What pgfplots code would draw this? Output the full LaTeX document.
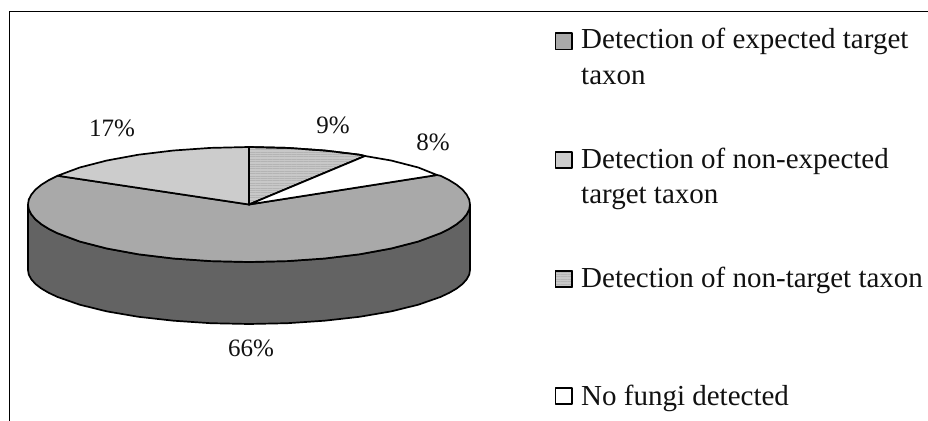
\documentclass[border=0pt]{standalone}
\usepackage{pgfplots}
\pgfplotsset{compat=1.18}
\usetikzlibrary{patterns.meta}
\usepackage{fontspec}
\setmainfont{Liberation Serif}
\definecolor{txt}{HTML}{111111}
\definecolor{side}{HTML}{636363}
\definecolor{big}{HTML}{A9A9A9}
\definecolor{lg}{HTML}{CCCCCC}
\definecolor{hatch}{HTML}{C8C8C8}
\definecolor{hatchline}{HTML}{B4B4B4}
\tikzset{stripes/.style={fill=hatch,postaction={pattern={Lines[angle=0,distance=2.4bp,line width=1bp]},pattern color=hatchline}}}
\newcommand{\lab}[3]{\node[anchor=base west,inner sep=0pt,text=txt,font=\fontsize{29bp}{30bp}\selectfont] at (axis cs:#1,#2) {#3};}
\newcommand{\pct}[3]{\node[anchor=center,inner sep=0pt,text=txt,font=\fontsize{25bp}{26bp}\selectfont] at (axis cs:#1,#2) {#3};}
\begin{document}
\begin{tikzpicture}
\useasboundingbox (0,0) rectangle (928bp,421bp);
\begin{axis}[
  at={(0,0)},anchor=south west,
  scale only axis,width=928bp,height=421bp,
  xmin=0,xmax=928,ymin=0,ymax=421,y dir=reverse,
  axis lines=none,clip=false,
  every axis plot/.append style={line join=round,line width=1.7bp,draw=black,mark=none}
]
% frame
\addplot[line width=1.2bp,draw=black] coordinates {(9.5,421)(9.5,11.5)(928,11.5)};
% side wall
\addplot[fill=side] coordinates {(28,204.5)(28.8,209.5)(31.4,214.5)(35.5,219.4)(41.3,224.2)(48.7,228.8)(57.6,233.25)(79.7,241.5)(106.9,248.5)(138.5,254.3)(173.4,258.5)(210.6,261.1)(249,262)(287.4,261.1)(324.6,258.5)(359.5,254.3)(391.1,248.5)(418.3,241.5)(440.4,233.25)(449.3,228.8)(456.7,224.2)(462.5,219.4)(466.6,214.5)(469.2,209.5)(470,204.5)
(470,270)(469.2,274.7)(466.6,279.4)(462.5,284)(456.7,288.5)(449.3,292.8)(440.4,297)(418.3,304.7)(391.1,311.4)(359.5,316.8)(324.6,320.7)(287.4,323.2)(249,324)(210.6,323.2)(173.4,320.7)(138.5,316.8)(106.9,311.4)(79.7,304.7)(57.6,297)(48.7,292.8)(41.3,288.5)(35.5,284)(31.4,279.4)(28.8,274.7)(28,270)} --cycle;
% 66 % slice
\addplot[fill=big] coordinates {(249,204.5)(437,175)(440.4,175.75)(449.3,180.2)(456.7,184.8)(462.5,189.6)(466.6,194.5)(469.2,199.5)(470,204.5)(469.2,209.5)(466.6,214.5)(462.5,219.4)(456.7,224.2)(449.3,228.8)(440.4,233.25)(418.3,241.5)(391.1,248.5)(359.5,254.3)(324.6,258.5)(287.4,261.1)(249,262)(210.6,261.1)(173.4,258.5)(138.5,254.3)(106.9,248.5)(79.7,241.5)(57.6,233.25)(48.7,228.8)(41.3,224.2)(35.5,219.4)(31.4,214.5)(28.8,209.5)(28,204.5)(28.8,199.5)(31.4,194.5)(35.5,189.6)(41.3,184.8)(48.7,180.2)(57.6,175.75)} --cycle;
% 17 % slice
\addplot[fill=lg] coordinates {(249,204.5)(57.6,175.75)(79.7,167.5)(106.9,160.5)(138.5,154.7)(173.4,150.5)(210.6,147.9)(249,147)} --cycle;
% 9 % slice
\addplot[stripes] coordinates {(249,204.5)(249,147)(287.4,147.9)(324.6,150.5)(359.5,154.7)(365,156)} --cycle;
% 8 % slice
\addplot[fill=white] coordinates {(249,204.5)(365,156)(391.1,160.5)(418.3,167.5)(437,175)} --cycle;
% legend swatches
\addplot[fill=big] coordinates {(555.5,33)(572,33)(572,49.5)(555.5,49.5)} --cycle;
\addplot[fill=lg] coordinates {(555.5,152)(572,152)(572,168)(555.5,168)} --cycle;
\addplot[stripes] coordinates {(555.5,271)(572,271)(572,287)(555.5,287)} --cycle;
\addplot[fill=white] coordinates {(555.5,388)(572,388)(572,404)(555.5,404)} --cycle;
% percentages
\pct{112}{128}{17\%}
\pct{333}{125}{9\%}
\pct{433}{142}{8\%}
\pct{251}{348}{66\%}
% legend text
\lab{581}{49}{Detection of expected target}
\lab{581}{85}{taxon}
\lab{581}{168}{Detection of non-expected}
\lab{581}{203}{target taxon}
\lab{581}{287}{Detection of non-target taxon}
\lab{581}{405}{No fungi detected}
\end{axis}
\end{tikzpicture}
\end{document}
